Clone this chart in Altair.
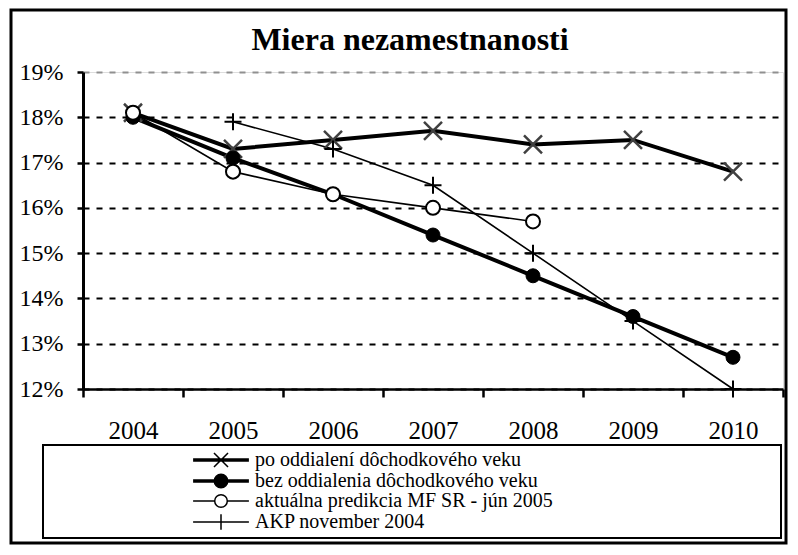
import altair as alt
import pandas as pd

# ---- data ----
years = ["2004", "2005", "2006", "2007", "2008", "2009", "2010"]
series_names = [
    "po oddialení dôchodkového veku",
    "bez oddialenia dôchodkového veku",
    "aktuálna predikcia MF SR - jún 2005",
    "AKP november 2004",
]
po_oddialeni = [18.1, 17.3, 17.5, 17.7, 17.4, 17.5, 16.8]
bez_oddialenia = [18.0, 17.1, 16.3, 15.4, 14.5, 13.6, 12.7]
aktualna = [18.1, 16.8, 16.3, 16.0, 15.7, None, None]
akp = [None, 17.9, 17.3, 16.5, 15.0, 13.5, 12.0]
y_ticks = [0.12, 0.13, 0.14, 0.15, 0.16, 0.17, 0.18, 0.19]
title_text = "Miera nezamestnanosti"

rows = []
for name, vals in zip(series_names, [po_oddialeni, bez_oddialenia, aktualna, akp]):
    for yr, v in zip(years, vals):
        if v is not None:
            rows.append({"year": yr, "series": name, "value": v / 100.0})
df = pd.DataFrame(rows)

FONT = "Liberation Serif"

x_enc = alt.X(
    "year:O",
    bandPosition=0.5,
    scale=alt.Scale(type="band", domain=years, paddingInner=0, paddingOuter=0),
    axis=alt.Axis(
        title=None, labelAngle=0, tickBand="extent", tickSize=8, tickWidth=2.5,
        tickColor="black", domainColor="black", domainWidth=2.5,
        labelFontSize=25, labelPadding=21, labelColor="black", labelFont=FONT,
        grid=False,
    ),
)
y_enc = alt.Y(
    "value:Q",
    scale=alt.Scale(domain=[0.12, 0.19], nice=False, zero=False),
    axis=alt.Axis(
        title=None, values=y_ticks, format=".0%", tickSize=6, tickWidth=2.5,
        tickColor="black", domainColor="black", domainWidth=3,
        labelFontSize=24, labelPadding=14, labelColor="black", labelFont=FONT,
        grid=True,
        gridColor={"condition": {"test": "datum.value >= 0.19", "value": "#909090"}, "value": "black"},
        gridDash=[6, 7], gridWidth=2,
    ),
)

line_widths = [4, 4, 1.6, 1.6]
marker_specs = [
    dict(shape="M-1,-1L1,1M-1,1L1,-1", size=324, filled=False, stroke="#404040", strokeWidth=2.5),
    dict(shape="circle", size=196, filled=True, fill="black", stroke="black", strokeWidth=1),
    dict(shape="circle", size=196, filled=True, fill="white", stroke="black", strokeWidth=2),
    dict(shape="M-1,0H1M0,-1V1", size=289, filled=False, stroke="black", strokeWidth=2),
]

# frame and legend box (decoration)
deco = pd.DataFrame({"k": [0]})
frame = alt.Chart(deco).mark_rect(fill="white", fillOpacity=0, stroke="black", strokeWidth=3).encode(
    x=alt.value(-72), x2=alt.value(703), y=alt.value(-62), y2=alt.value(471)
)
legend_box = alt.Chart(deco).mark_rect(fill="white", fillOpacity=0, stroke="black", strokeWidth=2).encode(
    x=alt.value(-40), x2=alt.value(698), y=alt.value(373), y2=alt.value(466)
)

lines = []
markers = []
for name, lw, ms in zip(series_names, line_widths, marker_specs):
    base = alt.Chart(df).transform_filter(alt.datum.series == name)
    lines.append(base.mark_line(color="black", strokeWidth=lw).encode(x=x_enc, y=y_enc))
    markers.append(base.mark_point(opacity=1, **ms).encode(x=x_enc, y=y_enc))

legend_paths = [
    "M-3.1,-0.12H3.1M-3.1,0H3.1M-3.1,0.12H3.1M-0.78,-0.78L0.78,0.78M-0.78,0.78L0.78,-0.78",
    "M-3.1,-0.12H3.1M-3.1,0H3.1M-3.1,0.12H3.1M0.75,0A0.75,0.75 0 1 1 -0.75,0A0.75,0.75 0 1 1 0.75,0Z",
    "M-3.1,0H-0.7M0.7,0H3.1M0.7,0A0.7,0.7 0 1 1 -0.7,0A0.7,0.7 0 1 1 0.7,0Z",
    "M-3.1,0H3.1M0,-0.85V0.85",
]
legend_obj = alt.Legend(
    title=None, orient="none", legendX=128, legendY=378, symbolSize=324,
    symbolStrokeWidth=1.5, labelFontSize=20, labelFont=FONT, labelColor="black",
    labelLimit=0, labelOffset=24, rowPadding=0, padding=0,
)
legend_layer = alt.Chart(df).transform_filter("false").mark_point(opacity=1, strokeWidth=1.5, size=324).encode(
    shape=alt.Shape("series:N", scale=alt.Scale(domain=series_names, range=legend_paths), legend=legend_obj),
    fill=alt.Fill("series:N", scale=alt.Scale(domain=series_names, range=["transparent", "black", "white", "transparent"]), legend=legend_obj),
    stroke=alt.Stroke("series:N", scale=alt.Scale(domain=series_names, range=["black", "black", "black", "black"]), legend=legend_obj),
)

chart = alt.layer(frame, legend_box, *lines, *markers, legend_layer).properties(
    width=700,
    height=317,
    title=alt.Title(title_text, fontSize=32, font=FONT, fontWeight="bold", color="black",
                    anchor="middle", frame="group", dx=-23, offset=-48),
    autosize=alt.AutoSizeParams(type="none"),
    padding={"left": 75, "top": 64, "right": 5, "bottom": 156},
).configure_view(stroke="#909090", strokeWidth=2).configure(font=FONT)

chart.save("out.html", embed_options={"renderer": "svg", "actions": False})
